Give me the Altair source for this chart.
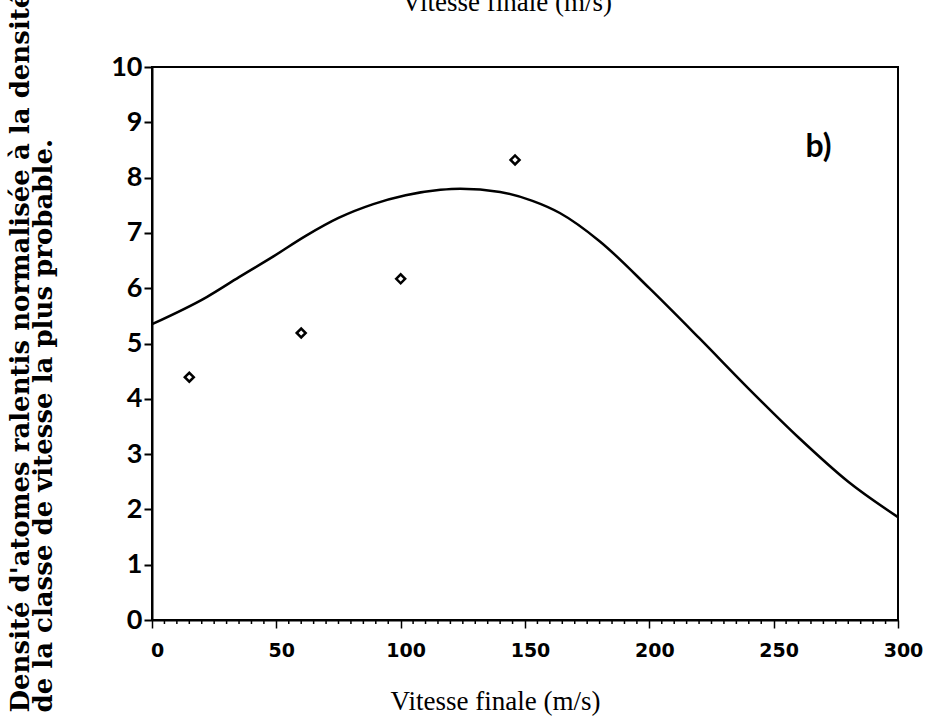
import altair as alt
import pandas as pd

# Curve
curve_v = [0, 22, 35, 49, 62, 75, 89, 102, 116, 124, 140, 153, 164, 180, 200, 220, 240, 260, 280, 300]
curve_d = [5.35, 5.84, 6.2, 6.58, 6.95, 7.27, 7.52, 7.68, 7.78, 7.8, 7.74, 7.58, 7.36, 6.85, 6.0, 5.1, 4.18, 3.3, 2.5, 1.86]

# Measured points
pts_v = [15, 60, 100, 146]
pts_d = [4.39, 5.19, 6.17, 8.32]

x_major = list(range(0, 301, 50))
x_minor = [v for v in range(0, 301, 5) if v % 50 != 0]
y_ticks = list(range(0, 11))

x_title = "Vitesse finale (m/s)"
y_title = ["Densité d'atomes ralentis normalisée à la densité",
           "de la classe de vitesse la plus probable."]
panel_label = "b)"

curve_df = pd.DataFrame({"v": curve_v, "d": curve_d})
pts_df = pd.DataFrame({"v": pts_v, "d": pts_d})
minor_df = pd.DataFrame({"v": x_minor})
lab_df = pd.DataFrame({"v": [268], "d": [8.55], "t": [panel_label]})

xscale = alt.Scale(domain=[0, 300], nice=False, zero=False)
yscale = alt.Scale(domain=[0, 10], nice=False)

xaxis = alt.Axis(
    title=x_title, values=x_major, labelOverlap=False, tickSize=8,
    labelFont="DejaVu Sans", labelFontWeight="bold", labelFontSize=19,
    labelFlush=False, labelOffset=5, labelPadding=13,
    titleFont="Liberation Serif", titleFontSize=27, titleFontWeight="normal",
    titlePadding=28, titleX=343, titleAnchor="middle", titleAlign="center",
    domainColor="black", domainWidth=2, tickColor="black", tickWidth=1.5,
    labelColor="black", titleColor="black", grid=False,
)
yaxis = alt.Axis(
    title=y_title, values=y_ticks, tickSize=8,
    labelFont="Lato", labelFontWeight="bold", labelFontSize=27, labelPadding=2,
    titleFont="DejaVu Serif", titleFontSize=26, titleFontWeight="bold",
    titleAngle=270, titleAlign="left", titleBaseline="top", titleLineHeight=23,
    titleX=-145, titleY=645,
    domainColor="black", domainWidth=2, tickColor="black", tickWidth=2,
    labelColor="black", titleColor="black", grid=False,
)

line = alt.Chart(curve_df).mark_line(color="black", strokeWidth=2.5, interpolate="monotone").encode(
    x=alt.X("v:Q", scale=xscale, axis=xaxis),
    y=alt.Y("d:Q", scale=yscale, axis=yaxis),
)
minor = alt.Chart(minor_df).mark_tick(orient="vertical", color="black", size=4, thickness=1.5, opacity=1).encode(
    x="v:Q", y=alt.value(555)
)
points = alt.Chart(pts_df).mark_point(shape="diamond", filled=False, color="black", opacity=1,
                                      size=80, strokeWidth=2.5).encode(
    x="v:Q", y="d:Q"
)
label = alt.Chart(lab_df).mark_text(font="Lato", fontWeight="bold", fontSize=32, color="black").encode(
    x="v:Q", y="d:Q", text="t:N"
)
top_cut = alt.Chart(pd.DataFrame({"t": [x_title]})).mark_text(
    font="Liberation Serif", fontSize=27, color="black", align="center", baseline="alphabetic"
).encode(x=alt.value(355), y=alt.value(-56), text="t:N")

chart = alt.layer(line, minor, points, label, top_cut).properties(
    width=746, height=553,
    autosize=alt.AutoSizeParams(type="none"),
    padding={"left": 152, "top": 67, "right": 30, "bottom": 99},
).configure(background="white").configure_view(stroke="black", strokeWidth=2, strokeOpacity=1)

chart.save("out.html", embed_options={"renderer": "svg", "actions": False})
